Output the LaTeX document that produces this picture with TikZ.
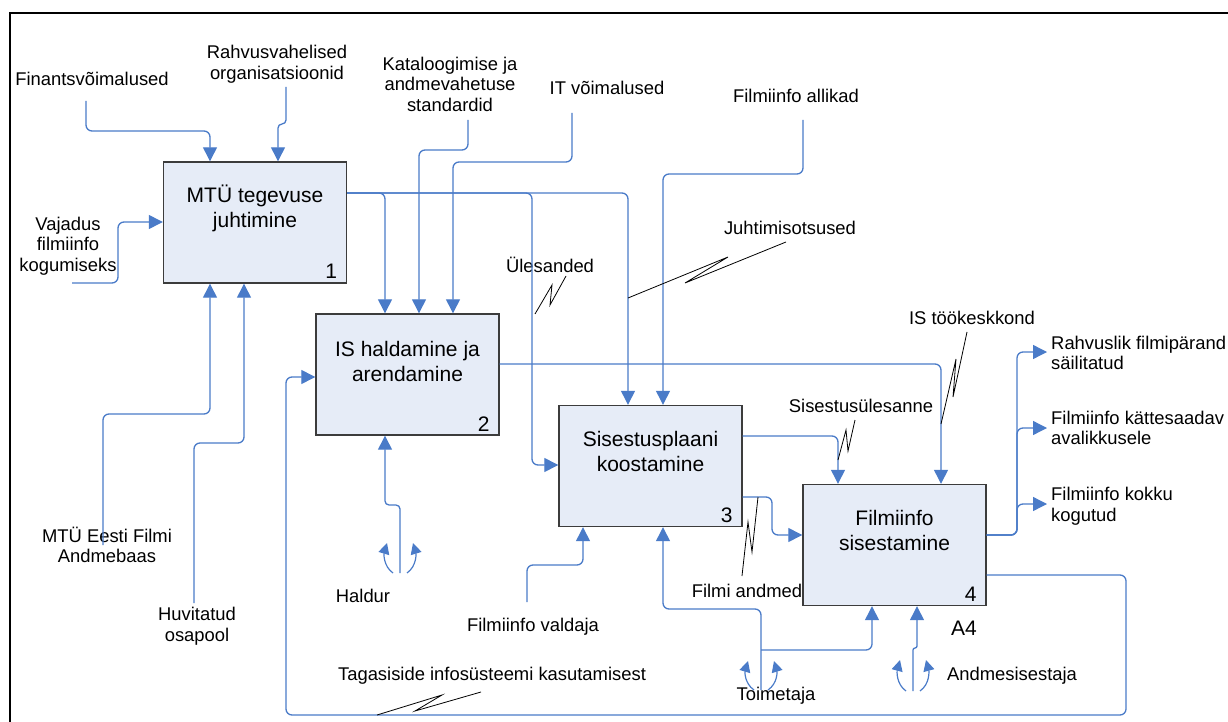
\documentclass[tikz,border=0pt]{standalone}
\usepackage{fontspec}
\setmainfont{Liberation Sans}
\usetikzlibrary{arrows.meta,calc}
\definecolor{flowblue}{HTML}{4A7BC8}
\definecolor{boxfill}{HTML}{E6ECF7}
\definecolor{boxline}{HTML}{3C3C3C}
\begin{document}
\begin{tikzpicture}[x=1pt,y=-1pt,
  box/.style={draw=boxline, line width=1.4pt, fill=boxfill, minimum width=183pt, minimum height=121pt, inner sep=0pt},
  btxt/.style={font=\fontsize{21}{25}\selectfont, align=center, inner sep=0pt},
  bnum/.style={font=\fontsize{21}{25}\selectfont, inner sep=0pt},
  lbl/.style={font=\fontsize{18.4}{20.5}\selectfont, align=center, inner sep=0pt},
  lbll/.style={font=\fontsize{18.4}{20.5}\selectfont, align=left, inner sep=0pt, anchor=west},
  conn/.style={draw=flowblue, line width=1.3pt, rounded corners=6pt},
  conna/.style={conn, -{Triangle[length=14pt,width=14pt]}},
  curl/.style={draw=flowblue, line width=1.2pt, -{Triangle[length=11pt,width=11pt]}},
  squig/.style={draw=black, line width=0.8pt, line join=miter}]
\useasboundingbox (0,0) rectangle (1228,722);
% frame
\draw[line width=2pt] (10,722) -- (10,13) -- (1228,13);

% boxes
\node[box] (b1) at (255,222.5) {};
\node[box] (b2) at (407.5,374.5) {};
\node[box] (b3) at (650.5,466) {};
\node[box] (b4) at (894.5,545) {};
\node[btxt] (t1) at ($(b1.north)+(0,47.5)$) {MTÜ tegevuse\\juhtimine};
\node[btxt] (t2) at ($(b2.north)+(0,48)$) {IS haldamine ja\\arendamine};
\node[btxt] (t3) at ($(b3.north)+(0,47)$) {Sisestusplaani\\koostamine};
\node[btxt] (t4) at ($(b4.north)+(0,46.5)$) {Filmiinfo\\sisestamine};
\node[bnum] (n1) at ($(b1.south east)+(-16,-12)$) {1};
\node[bnum] (n2) at ($(b2.south east)+(-16,-12)$) {2};
\node[bnum] (n3) at ($(b3.south east)+(-16,-12)$) {3};
\node[bnum] (n4) at ($(b4.south east)+(-16,-12)$) {4};
\node[bnum] (nA4) at (964,628) {A4};

% labels
\node[lbl] (lFin) at (92,79) {Finantsvõimalused};
\node[lbl] (lRahv) at (277,64) {Rahvusvahelised\\organisatsioonid};
\node[lbl] (lKat) at (450,84) {Kataloogimise ja\\andmevahetuse\\standardid};
\node[lbl] (lIT) at (607,88) {IT võimalused};
\node[lbl] (lAll) at (796,96) {Filmiinfo allikad};
\node[lbl] (lVaj) at (68,246) {Vajadus\\filmiinfo\\kogumiseks};
\node[lbl] (lUl) at (550,265) {Ülesanded};
\node[lbl] (lJuh) at (790,228) {Juhtimisotsused};
\node[lbl] (lIST) at (972,318) {IS töökeskkond};
\node[lbl] (lSis) at (861,406) {Sisestusülesanne};
\node[lbll] (lO1) at (1051,353) {Rahvuslik filmipärand\\säilitatud};
\node[lbll] (lO2) at (1051,428) {Filmiinfo kättesaadav\\avalikkusele};
\node[lbll] (lO3) at (1051,506) {Filmiinfo kokku\\kogutud};
\node[lbl] (lMTU) at (107,545) {MTÜ Eesti Filmi\\Andmebaas};
\node[lbl] (lHuv) at (197,626) {Huvitatud\\osapool};
\node[lbl] (lHal) at (363,596) {Haldur};
\node[lbl] (lTag) at (492,676) {Tagasiside infosüsteemi kasutamisest};
\node[lbl] (lVal) at (533,627) {Filmiinfo valdaja};
\node[lbl] (lFA) at (747,591) {Filmi andmed};
\node[lbl] (lToi) at (776,696) {Toimetaja};
\node[lbl] (lAnd) at (1012,676) {Andmesisestaja};

% free ends
\coordinate (sFin) at (86,101);
\coordinate (sRahv) at (286,87);
\coordinate (sVaj) at (72,283);
\coordinate (sKat) at (468,120);
\coordinate (sIT) at (572,113);
\coordinate (sAll) at (803,120);
\coordinate (oA) at (1047,352);
\coordinate (oB) at (1047,428);
\coordinate (oC) at (1047,504);
\coordinate (sMTU) at (103,545);
\coordinate (sHuv) at (194,603);
\coordinate (sHal) at (400,573);
\coordinate (sVal) at (527,602);
\coordinate (sToi) at (761,690);
\coordinate (jToi) at (761,650);
\coordinate (sAnd) at (913,691);

% controls
\draw[conna] (sFin) -- (86,131) -- (210,131) -- (b1.north -| 210,0);
\draw[conna, rounded corners=4pt] (sRahv) -- (286,124) -- (278,124) -- (b1.north -| 278,0);
\draw[conna] (sVaj) -- (118,283) -- (118,222) -- (b1.west |- 0,222);
\draw[conna] (b1.east |- 0,193) -- (628,193) -- (b3.north -| 628,0);
\draw[conna] (b1.east |- 0,193) -- (385,193) -- (b2.north -| 385,0);
\draw[conna] (b1.east |- 0,193) -- (532,193) -- (532,465) -- (b3.west |- 0,465);
\draw[conna] (sKat) -- (468,150) -- (419,150) -- (b2.north -| 419,0);
\draw[conna] (sIT) -- (572,162) -- (453,162) -- (b2.north -| 453,0);
\draw[conna] (sAll) -- (803,174) -- (663,174) -- (b3.north -| 663,0);
\draw[conna] (b2.east |- 0,364) -- (941,364) -- (b4.north -| 941,0);
\draw[conna] (b3.east |- 0,436) -- (838,436) -- (b4.north -| 838,0);
\draw[conna] (b3.east |- 0,497) -- (772,497) -- (772,535) -- (b4.west |- 0,535);
% outputs
\draw[conna] (b4.east |- 0,535) -- (1017,535) -- (1017,352) -- (oA);
\draw[conna] (b4.east |- 0,535) -- (1017,535) -- (1017,428) -- (oB);
\draw[conna] (b4.east |- 0,535) -- (1017,535) -- (1017,504) -- (oC);
% feedback
\draw[conna] (b4.east |- 0,575) -- (1126,575) -- (1126,715) -- (286,715) -- (286,377) -- (b2.west |- 0,377);
% mechanisms
\draw[conna] (sMTU) -- (103,414) -- (210,414) -- (b1.south -| 210,0);
\draw[conna] (sHuv) -- (194,443) -- (244,443) -- (b1.south -| 244,0);
\draw[conna, rounded corners=4pt] (sHal) -- (400,505) -- (385,505) -- (b2.south -| 385,0);
\draw[conna] (sVal) -- (527,565) -- (583,565) -- (b3.south -| 583,0);
\draw[conna] (sToi) -- (761,609) -- (663,609) -- (b3.south -| 663,0);
\draw[conna] (jToi) -- (872,650) -- (b4.south -| 872,0);
\draw[conna, rounded corners=2pt] (sAnd) -- (913,648) -- (917,648) -- (b4.south -| 917,0);

% curls
\draw[curl] (393,573) .. controls (383,566) and (384,553) .. (387,543);
\draw[curl] (407,573) .. controls (417,566) and (416,553) .. (413,543);
\draw[curl] (754,690) .. controls (744,683) and (745,671) .. (748,661);
\draw[curl] (768,690) .. controls (778,683) and (777,671) .. (774,661);
\draw[curl] (906,691) .. controls (896,684) and (897,671) .. (900,660);
\draw[curl] (920,691) .. controls (930,684) and (929,671) .. (926,660);

% squiggles
\draw[squig] (535,314) -- (552,285) -- (550,305) -- (566,276);
\draw[squig] (628,298) -- (728,257) -- (685,283) -- (786,242);
\draw[squig] (941,424) -- (956,359) -- (953,397) -- (967,332);
\draw[squig] (838,460) -- (846,430) -- (848,451) -- (855,420);
\draw[squig] (742,576) -- (748,522) -- (752,552) -- (758,497);
\draw[squig] (377,715) -- (442,695) -- (415,711) -- (481,692);
\end{tikzpicture}
\end{document}
